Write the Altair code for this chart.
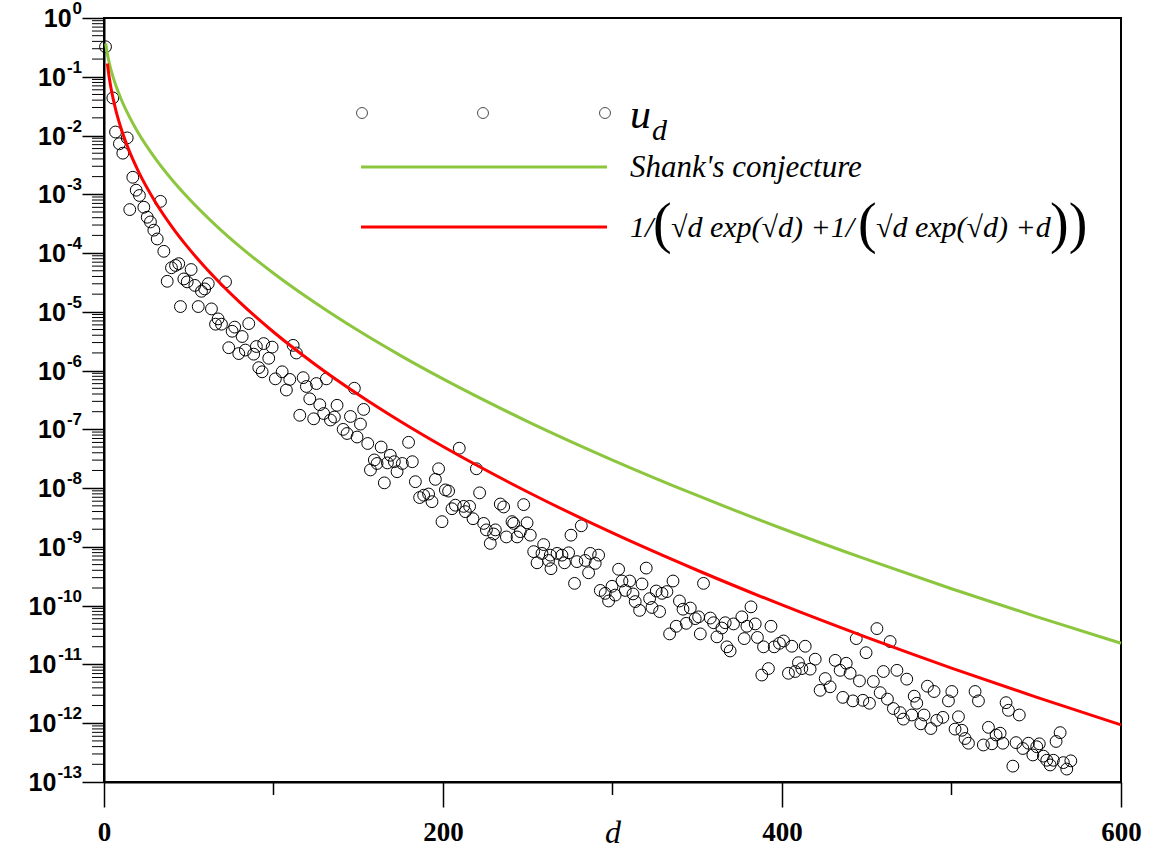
import altair as alt
import pandas as pd

# ---------------- data ----------------
d_obs = [0.9, 5.2, 6.8, 9.1, 11.1, 13.7, 15.2, 17.0, 19.0, 20.9, 23.5, 25.5, 27.4, 29.4, 31.4,
         33.3, 35.3, 37.3, 39.8, 42.2, 44.1, 45.1, 47.1, 49.1, 51.4, 53.6, 55.6, 57.5, 59.4, 61.5,
         63.4, 65.8, 67.3, 69.3, 71.7, 73.6, 75.6, 77.1, 79.5, 81.5, 83.4, 85.4, 88.3, 89.9, 91.3,
         93.3, 94.2, 97.2, 99.2, 101.1, 105.1, 107.6, 109.6, 111.6, 113.5, 115.5, 117.5, 119.4, 121.4,
         123.7, 125.3, 127.3, 129.6, 131.2, 133.6, 135.9, 137.5, 141.1, 143.4, 145.4, 147.7, 149.3,
         151.3, 153.2, 155.6, 157.2, 159.5, 161.1, 163.5, 165.4, 167.2, 168.9, 171.3, 172.9, 176.0,
         179.7, 181.9, 183.7, 186.2, 188.6, 191.5, 193.5, 195.5, 197.4, 199.4, 201.4, 203.3, 205.3,
         207.3, 209.6, 212.2, 213.2, 215.7, 217.7, 219.7, 221.6, 224.0, 225.6, 227.9, 229.9, 230.9,
         233.8, 235.8, 237.4, 240.7, 241.7, 243.7, 245.6, 247.6, 249.6, 251.5, 253.5, 255.5, 258.4,
         259.4, 262.3, 263.3, 263.7, 267.3, 270.2, 271.7, 274.1, 275.5, 277.6, 279.0, 281.6, 283.9,
         285.9, 286.9, 289.8, 291.8, 292.8, 295.7, 297.7, 299.7, 301.6, 303.6, 305.6, 307.5, 310.1,
         312.1, 313.4, 316.0, 317.4, 319.9, 321.9, 323.3, 325.8, 327.8, 329.2, 332.1, 333.7, 335.7,
         337.6, 339.5, 341.6, 343.5, 345.9, 348.8, 350.8, 351.8, 353.7, 357.7, 359.6, 361.6, 364.5,
         366.5, 367.5, 369.4, 371.4, 376.3, 377.7, 379.3, 381.7, 384.2, 385.5, 388.1, 389.1, 392.0,
         393.5, 395.4, 398.5, 400.9, 403.8, 405.8, 407.8, 409.7, 411.7, 413.7, 416.6, 419.6, 422.5,
         425.5, 428.4, 431.4, 434.3, 435.9, 437.9, 440.2, 441.8, 443.8, 445.7, 447.7, 449.6, 451.6,
         453.9, 456.0, 457.9, 459.8, 462.2, 463.8, 465.7, 467.8, 469.7, 471.6, 473.6, 476.6, 478.0,
         479.5, 481.9, 483.8, 485.8, 487.8, 489.7, 491.3, 494.9, 498.2, 500.2, 502.1, 504.1, 506.1,
         508.0, 510.0, 513.9, 515.9, 518.8, 521.8, 523.8, 526.3, 528.7, 530.3, 532.2, 533.6, 536.2,
         538.1, 540.0, 542.1, 545.4, 548.0, 550.3, 551.8, 554.2, 556.2, 558.2, 560.1, 561.7, 564.1,
         566.0, 568.0, 570.4]

log10_u_obs = [-0.49, -1.36, -1.94, -2.14, -2.30, -2.04, -3.26, -2.71, -2.93, -3.02, -3.22, -3.39, -3.47, -3.61, -3.76,
               -3.12, -3.97, -4.48, -4.25, -4.21, -4.18, -4.91, -4.44, -4.49, -4.28, -4.55, -4.91, -4.65, -4.61, -4.52,
               -4.95, -5.21, -5.12, -5.21, -4.49, -5.61, -5.33, -5.26, -5.71, -5.42, -5.65, -5.20, -5.72, -5.59, -5.95,
               -6.02, -5.54, -5.79, -5.60, -6.14, -6.02, -6.33, -6.15, -5.57, -5.70, -6.76, -6.12, -6.27, -6.48,
               -6.82, -6.22, -6.58, -6.73, -6.14, -6.84, -6.79, -6.59, -7.00, -7.07, -6.78, -6.30, -7.13,
               -6.91, -6.66, -7.24, -7.69, -7.52, -7.58, -7.30, -7.91, -7.57, -7.44, -7.55, -7.72, -7.58,
               -7.22, -7.55, -7.89, -8.16, -8.12, -8.10, -8.23, -7.85, -7.67, -8.57, -8.03, -8.05, -8.35,
               -8.29, -7.32, -8.31, -8.40, -8.31, -8.52, -7.67, -8.08, -8.60, -8.71, -8.94, -8.78, -8.71,
               -8.27, -8.32, -8.83, -8.57, -8.60, -8.83, -8.74, -8.28, -8.59, -8.80, -9.08, -9.27, -9.11,
               -8.96, -9.23, -9.14, -9.37, -9.11, -9.14, -9.27, -9.10, -8.80, -9.62, -9.25, -8.64, -9.23,
               -9.44, -9.11, -9.28, -9.14, -9.74, -9.79, -9.92, -9.67, -9.82, -9.38, -9.58, -9.74, -9.58,
               -9.80, -9.93, -10.08, -9.63, -9.36, -9.88, -10.03, -9.75, -10.10, -9.79, -9.76, -10.48, -9.58,
               -10.35, -9.92, -10.06, -10.30, -10.04, -10.22, -10.19, -10.48, -9.62, -10.21, -10.29, -10.53, -10.38,
               -10.29, -10.70, -10.77, -10.31, -10.19, -10.56, -10.35, -10.02, -10.31, -10.54, -11.18, -10.70, -11.07,
               -10.35, -10.70, -10.64, -10.60, -11.15, -10.69, -11.12, -10.97, -11.07, -10.69, -11.08, -10.91, -11.44,
               -11.24, -11.38, -10.93, -11.10, -11.56, -10.98, -11.15, -11.62, -10.56, -11.28, -11.61, -10.80, -11.66,
               -11.29, -10.39, -11.48, -11.12, -11.59, -10.61, -11.75, -11.10, -11.82, -11.93, -11.25, -11.86, -11.54,
               -11.66, -12.01, -11.86, -11.37, -12.09, -11.46, -11.95, -11.90, -11.62, -11.46, -12.10, -11.89, -12.12,
               -12.26, -12.34, -11.46, -11.62, -12.37, -12.07, -12.35, -12.20, -12.17, -12.34, -11.65, -11.78, -12.73,
               -12.33, -11.86, -12.43, -12.34, -12.54, -12.40, -12.35, -12.56, -12.63, -12.71, -12.63, -12.31, -12.16,
               -12.67, -12.78, -12.64]

d_green = [1, 2, 4, 7, 10, 15, 20, 30, 40, 50, 65, 80, 100, 125, 150, 175, 200, 250, 300, 350,
           400, 450, 500, 550, 600]
u_green = [3.68e-1, 2.43e-1, 1.35e-1, 7.10e-2, 4.23e-2, 2.08e-2, 1.14e-2, 4.18e-3, 1.79e-3, 8.49e-4,
           3.15e-4, 1.30e-4, 4.54e-5, 1.40e-5, 4.80e-6, 1.80e-6, 7.22e-7, 1.36e-7, 3.01e-8, 7.51e-9,
           2.06e-9, 6.13e-10, 1.94e-10, 6.53e-11, 2.30e-11]

d_red = [2, 3, 4, 7, 10, 15, 20, 30, 40, 50, 65, 80, 100, 125, 150, 175, 200, 250, 300, 350,
         400, 450, 500, 550, 600]
u_red = [1.68e-1, 1.01e-1, 6.74e-2, 2.68e-2, 1.34e-2, 5.37e-3, 2.56e-3, 7.64e-4, 2.83e-4, 1.20e-4,
         3.91e-5, 1.46e-5, 4.54e-6, 1.25e-6, 3.92e-7, 1.36e-7, 5.10e-8, 8.61e-9, 1.73e-9, 4.01e-10,
         1.03e-10, 2.89e-11, 8.68e-12, 2.78e-12, 9.39e-13]

# y tick labels: "10" with a raised exponent
y_tick_base = "10"
y_tick_exponents = ["0", "-1", "-2", "-3", "-4", "-5", "-6", "-7", "-8", "-9",
                    "-10", "-11", "-12", "-13"]
x_tick_values = [0, 200, 400, 600]
x_minor_ticks = [100, 300, 500]

legend_labels = ["u", "d", "Shank's conjecture"]
formula_parts = ["1/", "(", "√d exp(√d) +1/", "(", "√d exp(√d) +d", "))"]

# ---------------- chart ----------------
W, H = 1017, 764
GREEN = "#8cc63f"
RED = "#ff0000"

obs = pd.DataFrame({"d": d_obs, "u": [10 ** v for v in log10_u_obs]})
green = pd.DataFrame({"d": d_green, "u": u_green})
red = pd.DataFrame({"d": d_red, "u": u_red})

y_tick_values = [10.0 ** (-k) for k in range(len(y_tick_exponents))]
y_minor = [m * 10.0 ** (-k) for k in range(1, 14) for m in range(2, 10)]
ylab = pd.DataFrame({"u": y_tick_values, "e": y_tick_exponents,
                     "b": [y_tick_base] * len(y_tick_exponents),
                     "n": [len(e) for e in y_tick_exponents]})

xscale = alt.Scale(domain=[0, 600], nice=False, zero=False)
yscale = alt.Scale(type="log", domain=[1e-13, 1], nice=False)

xaxis = alt.Axis(values=x_tick_values, title="d", grid=False, tickSize=25, tickWidth=1.5,
                 labelPadding=12, labelFont="Liberation Sans Narrow", labelFontWeight="bold",
                 labelFontSize=27, labelColor="black", labelFlush=False, labelOverlap=False,
                 titleFont="Liberation Serif", titleFontStyle="italic", titleFontWeight="normal",
                 titleFontSize=32, titleColor="black", titleY=60, titleBaseline="alphabetic")
yaxis = alt.Axis(values=y_tick_values, labels=False, title=None, grid=False,
                 tickSize=22, tickWidth=1.5)

X = lambda f: alt.X(f, scale=xscale, axis=xaxis)
Y = lambda f: alt.Y(f, scale=yscale, axis=yaxis)

points = alt.Chart(obs).mark_point(shape="circle", filled=False, color="black", size=140,
                                   strokeWidth=1, opacity=1).encode(x=X("d:Q"), y=Y("u:Q"))

green_line = alt.Chart(green).mark_line(color=GREEN, strokeWidth=3, interpolate="monotone").encode(
    x=X("d:Q"), y=Y("u:Q"))
red_line = alt.Chart(red).mark_line(color=RED, strokeWidth=3, interpolate="monotone").encode(
    x=X("d:Q"), y=Y("u:Q"))

y_minor_rules = alt.Chart(pd.DataFrame({"u": y_minor})).mark_rule(color="black", strokeWidth=1).encode(
    y=Y("u:Q"), x=alt.value(-12), x2=alt.value(0))
x_minor_rules = alt.Chart(pd.DataFrame({"d": x_minor_ticks})).mark_rule(color="black", strokeWidth=1.5).encode(
    x=X("d:Q"), y=alt.value(H), y2=alt.value(H + 13))

# y tick labels built as text: exponent right-aligned, "10" placed before it
EXP_SIZE, BASE_SIZE = 17, 25
LAB_RIGHT = -22
exp_w = {1: 0.556 * EXP_SIZE, 2: (0.333 + 0.556) * EXP_SIZE, 3: (0.333 + 2 * 0.556) * EXP_SIZE}

exp_text = alt.Chart(ylab).mark_text(
    align="right", baseline="middle", dy=-9, font="Liberation Sans", fontWeight="bold",
    fontSize=EXP_SIZE, color="black").encode(y=Y("u:Q"), x=alt.value(LAB_RIGHT), text="e:N")
base_texts = [
    alt.Chart(ylab[ylab["n"] == n]).mark_text(
        align="right", baseline="middle", dy=1, font="Liberation Sans", fontWeight="bold",
        fontSize=BASE_SIZE, color="black").encode(
        y=Y("u:Q"), x=alt.value(LAB_RIGHT - exp_w[n] - 1), text="b:N")
    for n in (1, 2, 3)
]

# ---------------- legend (drawn by hand, as in the reference) ----------------
one = pd.DataFrame({"k": [0]})


def leg_circle(px, py):
    return alt.Chart(one).mark_point(shape="circle", filled=False, color="black", size=120,
                                     strokeWidth=1).encode(x=alt.value(px), y=alt.value(py))


def leg_line(py, col):
    return alt.Chart(one).mark_rule(color=col, strokeWidth=3).encode(
        x=alt.value(257), x2=alt.value(503), y=alt.value(py))


def leg_text(txt, px, py, size, baseline="alphabetic", style="italic"):
    return alt.Chart(pd.DataFrame({"t": [txt]})).mark_text(
        align="left", baseline=baseline, font="Liberation Serif", fontStyle=style,
        fontSize=size, color="black").encode(text="t:N", x=alt.value(px), y=alt.value(py))


legend = [
    leg_circle(258, 95), leg_circle(379, 95), leg_circle(501, 95),
    leg_text(legend_labels[0], 526, 110, 42),
    leg_text(legend_labels[1], 548, 122, 30),
    leg_line(149, GREEN),
    leg_text(legend_labels[2], 526, 159, 31),
    leg_line(209, RED),
    leg_text(formula_parts[0], 526, 210, 30, "middle"),
    leg_text(formula_parts[1], 549, 207, 56, "middle", "normal"),
    leg_text(formula_parts[2], 567, 210, 30, "middle"),
    leg_text(formula_parts[3], 754, 207, 56, "middle", "normal"),
    leg_text(formula_parts[4], 772, 210, 30, "middle"),
    leg_text(formula_parts[5], 946, 207, 56, "middle", "normal"),
]

chart = alt.layer(
    points, green_line, red_line, y_minor_rules, x_minor_rules, exp_text, *base_texts, *legend
).properties(
    width=W, height=H,
    padding={"left": 104, "top": 18, "right": 32, "bottom": 70},
    autosize=alt.AutoSizeParams(type="none"),
    background="white",
).configure_view(
    stroke="black", strokeWidth=2
).configure_axis(
    domainColor="black", domainWidth=2, tickColor="black"
)

chart.save("out.html", embed_options={"renderer": "svg", "actions": False})
